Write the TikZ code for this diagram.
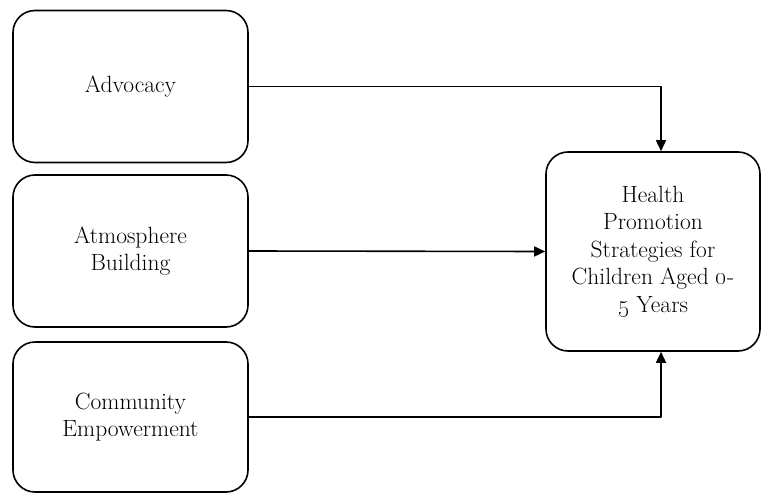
\documentclass[tikz,border=0pt]{standalone}
\usetikzlibrary{arrows.meta, positioning}

\begin{document}
\begin{tikzpicture}[x=1pt, y=-1pt, line cap=round, line join=round,
    factor/.style={draw, line width=1.6pt, rounded corners=22pt,
      minimum width=235pt, minimum height=152pt, align=center,
      font=\fontsize{23.5}{27.5}\selectfont},
    flow/.style={-{Triangle[length=11pt, width=10pt]}, line width=1.6pt}]
        \useasboundingbox (0,0) rectangle (762,492);

        % factors (left column)
        \node[factor] (adv) at (130.5,86.5) {Advocacy};
        \node[factor] (atm) at (130.5,251) {Atmosphere\\Building};
        \node[factor, minimum height=150pt] (emp) at (130.5,417) {Community\\Empowerment};

        % outcome (right)
        \node[factor, minimum width=214pt, minimum height=199pt] (hps) at (653,251.5)
            {Health\\Promotion\\Strategies for\\Children Aged \oldstylenums{0}-\\\oldstylenums{5} Years};

        % bends above and below the outcome box
        \coordinate (top) at (661,86.5);
        \coordinate (bot) at (661,417);

        % connectors
        \draw[flow] (adv.east) -- (top) -- (top |- hps.north);
        \draw[flow] (atm.east) -- (hps.west);
        \draw[flow] (emp.east) -- (bot) -- (bot |- hps.south);
    \end{tikzpicture}
\end{document}
